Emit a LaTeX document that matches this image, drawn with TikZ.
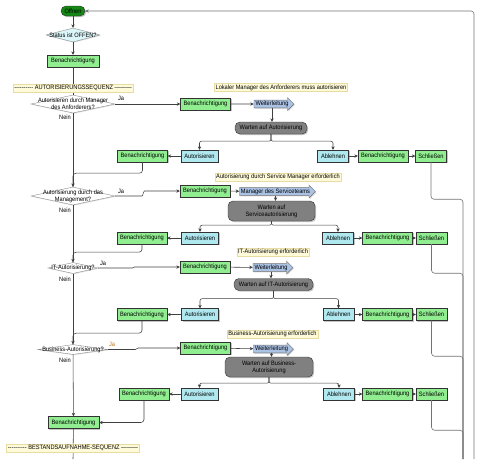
\documentclass[tikz,border=0pt]{standalone}
\usepackage{fontspec}
\setmainfont{Liberation Sans}[FakeStretch=0.9]
\usetikzlibrary{shapes.geometric, shapes.arrows, shadows, arrows.meta}
\definecolor{stepgreen}{RGB}{144,238,144}
\definecolor{actcyan}{RGB}{176,232,240}
\definecolor{fwdblue}{RGB}{170,194,228}
\definecolor{notefill}{RGB}{255,251,218}
\definecolor{noteline}{RGB}{232,220,160}
\definecolor{startgreen}{RGB}{20,135,20}
\definecolor{jaorange}{RGB}{190,120,20}
\newcommand{\hy}{\mbox{-}}
\newcommand{\dashrun}{\hy\hy\hy\hy\hy\hy\hy\hy\hy\hy}
\tikzset{
  box/.style={draw=black!80, line width=0.4pt, inner sep=1pt, minimum height=12pt,
    drop shadow={shadow xshift=1.2pt, shadow yshift=-1.2pt, fill=black!45}},
  greenbox/.style={box, fill=stepgreen, minimum width=50pt},
  cyanbox/.style={box, fill=actcyan},
  waitbox/.style={box, rounded corners=5pt, fill=black!50, align=center},
  startbox/.style={box, rounded corners=5pt, fill=startgreen, minimum width=24pt, minimum height=10pt},
  fwdbox/.style={single arrow, draw=black!55, fill=fwdblue, inner sep=0.8pt,
    single arrow head extend=2.5pt, drop shadow={shadow xshift=1pt, shadow yshift=-1pt, fill=black!30}},
  decision/.style={diamond, draw=black!45, fill=white, inner sep=0pt,
    drop shadow={shadow xshift=0.8pt, shadow yshift=-0.8pt, fill=black!25}},
  note/.style={draw=noteline, fill=notefill, inner sep=1.2pt},
  conn/.style={draw=black!75, line width=0.55pt},
  ret/.style={draw=black!55, line width=0.6pt, rounded corners=3pt}
}
\begin{document}
\begin{tikzpicture}[x=1pt, y=-1pt, font=\fontsize{6.3}{7}\selectfont, >={Stealth[length=3.5pt, width=3.4pt]}]
\useasboundingbox (0,0) rectangle (480,459);
\node[startbox] (offnen) at (73,11) {Offnen};
\node[decision, fill=actcyan!45, minimum width=54pt, minimum height=14pt, label={center:Status ist OFFEN?}] (status) at (73,35) {};
\node[greenbox, minimum width=52pt] (notify) at (73,61) {Benachrichtigung};

\node[decision, minimum width=84pt, minimum height=18pt, label={[align=center]center:{Autorisieren durch Manager\\des Anforderers?}}] (mgrask) at (73,104) {};
\node (mgrja) at (121,98) {Ja};
\node (mgrnein) at (65,117) {Nein};
\node[greenbox] (mgrnotify) at (205.5,104) {Benachrichtigung};
\node[fwdbox, minimum height=40pt] (mgrfwd) at (272,104) {Weiterleitung};
\node[note] (mgrnote) at (281,87.5) {Lokaler Manager des Anforderers muss autorisieren};
\node[waitbox, minimum width=72pt] (mgrwait) at (271,128) {Warten auf Autorisierung};
\node[cyanbox, minimum width=37pt] (mgrok) at (199.5,156) {Autorisieren};
\node[cyanbox, minimum width=31pt] (mgrno) at (333,156) {Ablehnen};
\node[greenbox] (mgrnoinfo) at (383,156) {Benachrichtigung};
\node[greenbox, minimum width=31pt] (mgrclose) at (431,156) {Schließen};
\node[greenbox] (mgrokinfo) at (142.5,156) {Benachrichtigung};

\node[decision, minimum width=84pt, minimum height=18pt, label={[align=center]center:{Autorisierung durch das\\Management?}}] (svcask) at (73,196) {};
\node (svcja) at (121,191.5) {Ja};
\node (svcnein) at (65,210) {Nein};
\node[greenbox] (svcnotify) at (205,191) {Benachrichtigung};
\node[fwdbox, minimum height=76pt] (svcfwd) at (275.5,191.5) {Manager des Serviceteams};
\node[note] (svcnote) at (278,177) {Autorisierung durch Service Manager erforderlich};
\node[waitbox, minimum width=87pt, minimum height=20pt] (svcwait) at (271.5,211) {Warten auf\\Serviceautorisierung};
\node[cyanbox, minimum width=37pt] (svcok) at (200,238) {Autorisieren};
\node[cyanbox, minimum width=31pt] (svcno) at (338,238) {Ablehnen};
\node[greenbox] (svcnoinfo) at (387.5,238) {Benachrichtigung};
\node[greenbox, minimum width=31pt] (svcclose) at (431.5,238) {Schließen};
\node[greenbox] (svcokinfo) at (142,238) {Benachrichtigung};

\node[decision, minimum width=50pt, minimum height=11pt, label={center:IT-Autorisierung?}] (itask) at (73,268) {};
\node (itja) at (103,263.5) {Ja};
\node (itnein) at (65,279) {Nein};
\node[greenbox] (itnotify) at (205,267) {Benachrichtigung};
\node[fwdbox, minimum height=40pt] (itfwd) at (271,267.5) {Weiterleitung};
\node[note] (itnote) at (273,252) {IT-Autorisierung erforderlich};
\node[waitbox, minimum width=79pt] (itwait) at (273.5,284.5) {Warten auf IT-Autorisierung};
\node[cyanbox, minimum width=37pt] (itok) at (200,314.5) {Autorisieren};
\node[cyanbox, minimum width=31pt] (itno) at (338.5,314.5) {Ablehnen};
\node[greenbox] (itnoinfo) at (387.5,314.5) {Benachrichtigung};
\node[greenbox, minimum width=31pt] (itclose) at (431.5,314.5) {Schließen};
\node[greenbox] (itokinfo) at (142,314.5) {Benachrichtigung};

\node[decision, minimum width=70pt, minimum height=10pt, label={center:Business-Autorisierung?}] (bizask) at (73,349.5) {};
\node[text=jaorange] (bizja) at (112,344) {Ja};
\node (biznein) at (65,360) {Nein};
\node[greenbox] (biznotify) at (205.5,348) {Benachrichtigung};
\node[fwdbox, minimum height=40pt] (bizfwd) at (271.5,349) {Weiterleitung};
\node[note] (biznote) at (272.5,334) {Business-Autorisierung erforderlich};
\node[waitbox, minimum width=88pt, minimum height=20pt] (bizwait) at (269,367) {Warten auf Business-\\Autorisierung};
\node[cyanbox, minimum width=37pt] (bizok) at (199.5,394) {Autorisieren};
\node[cyanbox, minimum width=31pt] (bizno) at (339,394) {Ablehnen};
\node[greenbox] (biznoinfo) at (387.5,394) {Benachrichtigung};
\node[greenbox, minimum width=31pt] (bizclose) at (431.5,394) {Schließen};
\node[greenbox] (bizokinfo) at (144,394) {Benachrichtigung};

\node[greenbox, minimum width=51pt] (final) at (73.5,422.5) {Benachrichtigung};
\coordinate (mainend) at (73,459);
\coordinate (inret) at (463,459);
\coordinate (outret) at (474,459);

\draw[conn, ->] (offnen) -- (status);
\draw[conn, ->] (status) -- (notify);
\draw[conn] (notify) -- (mgrask);
\draw[conn, ->] (mgrask) -- (svcask);
\draw[conn, ->] (svcask) -- (itask);
\draw[conn, ->] (itask) -- (bizask);
\draw[conn, ->] (bizask) -- (final);
\draw[conn] (final) -- (mainend);

\draw[conn, ->] (mgrask) -- (mgrnotify);
\draw[conn, ->] (mgrnotify) -- (mgrfwd);
\draw[conn, ->] (mgrfwd.south) -- (mgrfwd.south |- mgrwait.north);
\draw[conn, ->, rounded corners=2pt] (mgrwait.south) -- ++(0,7) -| (mgrok.north);
\draw[conn, ->, rounded corners=2pt] (mgrwait.south) -- ++(0,7) -| (mgrno.north);
\draw[conn, ->] (mgrok) -- (mgrokinfo);
\draw[conn, ->] (mgrno) -- (mgrnoinfo);
\draw[conn, ->] (mgrnoinfo) -- (mgrclose);
\draw[conn, rounded corners=3pt] (mgrokinfo.south) -- ++(0,11) -| (svcask.north);

\draw[conn, ->] (svcask.east) -- ++(27,0) -- ++(2,-5) -- (svcnotify.west);
\draw[conn, ->] (svcnotify) -- (svcfwd);
\draw[conn, ->] (svcfwd.south) -- (svcfwd.south |- svcwait.north);
\draw[conn, ->, rounded corners=2pt] (svcwait.south) -- ++(0,4) -| (svcok.north);
\draw[conn, ->, rounded corners=2pt] (svcwait.south) -- ++(0,4) -| (svcno.north);
\draw[conn, ->] (svcok) -- (svcokinfo);
\draw[conn, ->] (svcno) -- (svcnoinfo);
\draw[conn, ->] (svcnoinfo) -- (svcclose);
\draw[conn, rounded corners=3pt] (svcokinfo.south) -- ++(0,8) -| (itask.north);

\draw[conn, ->] (itask.east) -- ++(34,0) -- ++(2,-1) -- (itnotify.west);
\draw[conn, ->] (itnotify) -- (itfwd);
\draw[conn, ->] (itfwd.south) -- (itfwd.south |- itwait.north);
\draw[conn, ->, rounded corners=2pt] (itwait.south) -- ++(0,8) -| (itok.north);
\draw[conn, ->, rounded corners=2pt] (itwait.south) -- ++(0,8) -| (itno.north);
\draw[conn, ->] (itok) -- (itokinfo);
\draw[conn, ->] (itno) -- (itnoinfo);
\draw[conn, ->] (itnoinfo) -- (itclose);
\draw[conn, rounded corners=3pt] (itokinfo.south) -- ++(0,12.5) -| (bizask.north);

\draw[conn, ->] (bizask.east) -- ++(27,0) -- ++(3,-1.5) -- (biznotify.west);
\draw[conn, ->] (biznotify) -- (bizfwd);
\draw[conn, ->] (bizfwd.south) -- (bizfwd.south |- bizwait.north);
\draw[conn, ->, rounded corners=2pt] (bizwait.south) -- ++(0,6) -| (bizok.north);
\draw[conn, ->, rounded corners=2pt] (bizwait.south) -- ++(0,6) -| (bizno.north);
\draw[conn, ->] (bizok) -- (bizokinfo);
\draw[conn, ->] (bizno) -- (biznoinfo);
\draw[conn, ->] (biznoinfo) -- (bizclose);
\draw[conn, ->, rounded corners=3pt] (bizokinfo.south) |- (final.east);

\draw[ret] (mgrclose.south) -- ++(0,37) -| (inret);
\draw[ret] (svcclose.south) -- ++(0,29) -| (inret);
\draw[ret] (itclose.south) -- ++(0,35.5) -| (inret);
\draw[ret] (bizclose.south) -- ++(0,30) -| (inret);
\draw[ret, ->] (outret) |- (offnen);

\node[note] (authseq) at (73,88) {\dashrun\ AUTORISIERUNGSSEQUENZ ———};
\node[note] (invseq) at (73,448) {\dashrun\ BESTANDSAUFNAHME-SEQUENZ ———};
\end{tikzpicture}
\end{document}
